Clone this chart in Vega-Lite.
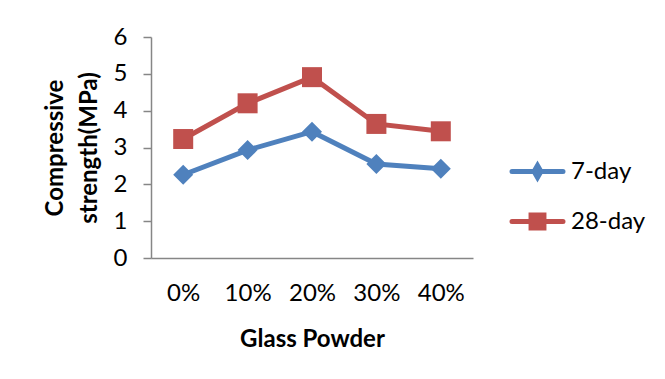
{
  "$schema": "https://vega.github.io/schema/vega-lite/v6.json",
  "width": 322,
  "height": 221,
  "autosize": "none",
  "padding": {"left": 151, "top": 37, "right": 192, "bottom": 121},
  "background": "white",
  "config": {"view": {"stroke": null}, "font": "Lato"},
  "data": {"values": [
    {"pct": "0%", "series": "7-day", "value": 2.26},
    {"pct": "10%", "series": "7-day", "value": 2.93},
    {"pct": "20%", "series": "7-day", "value": 3.43},
    {"pct": "30%", "series": "7-day", "value": 2.55},
    {"pct": "40%", "series": "7-day", "value": 2.42},
    {"pct": "0%", "series": "28-day", "value": 3.23},
    {"pct": "10%", "series": "28-day", "value": 4.2},
    {"pct": "20%", "series": "28-day", "value": 4.91},
    {"pct": "30%", "series": "28-day", "value": 3.64},
    {"pct": "40%", "series": "28-day", "value": 3.44}
  ]},
  "encoding": {
    "x": {
      "field": "pct", "type": "ordinal",
      "sort": ["0%", "10%", "20%", "30%", "40%"],
      "scale": {"padding": 0.5},
      "axis": {
        "title": "Glass Powder", "labelAngle": 0, "ticks": false,
        "domainColor": "#868686", "domainWidth": 1.5,
        "labelPadding": 23, "labelFontSize": 24, "labelColor": "#000000",
        "titleFontSize": 24, "titleFontWeight": "bold", "titleColor": "#000000",
        "titlePadding": 22
      }
    },
    "y": {
      "field": "value", "type": "quantitative",
      "scale": {"domain": [0, 6], "nice": false},
      "axis": {
        "values": [0, 1, 2, 3, 4, 5, 6], "grid": false,
        "tickSize": 8, "tickColor": "#868686", "tickWidth": 1.5,
        "domainColor": "#868686", "domainWidth": 1.5,
        "labelPadding": 16, "labelFontSize": 24, "labelColor": "#000000",
        "title": ["Compressive", "strength(MPa)"],
        "titleFontSize": 24, "titleFontWeight": "bold", "titleColor": "#000000",
        "titleLineHeight": 34, "titlePadding": 12
      }
    },
    "color": {
      "field": "series", "type": "nominal",
      "scale": {"domain": ["7-day", "28-day"], "range": ["#4F81BD", "#C0504D"]},
      "legend": {
        "title": null, "orient": "none", "legendX": 369, "legendY": 117,
        "labelFontSize": 24, "labelColor": "#000000", "labelOffset": 16,
        "symbolSize": 900, "rowPadding": 16,
        "encode": {
          "symbols": {
            "update": {
              "shape": {"signal": "datum.value === '7-day' ? 'M-1.7,0L1.7,0M0,-0.4L0.23,0L0,0.4L-0.23,0Z' : 'M-1.7,0L1.7,0M-0.43,-0.43L0.43,-0.43L0.43,0.43L-0.43,0.43Z'"},
              "fill": {"signal": "scale('color', datum.value)"},
              "stroke": {"signal": "scale('color', datum.value)"},
              "strokeWidth": {"value": 5},
              "strokeCap": {"value": "round"},
              "opacity": {"value": 1},
              "fillOpacity": {"value": 1}
            }
          }
        }
      }
    }
  },
  "layer": [
    {"mark": {"type": "line", "strokeWidth": 5}},
    {
      "transform": [{"filter": "datum.series === '7-day'"}],
      "mark": {"type": "point", "filled": true, "opacity": 1, "size": 400, "shape": "diamond"}
    },
    {
      "transform": [{"filter": "datum.series === '28-day'"}],
      "mark": {"type": "point", "filled": true, "opacity": 1, "size": 400, "shape": "square"}
    }
  ]
}
